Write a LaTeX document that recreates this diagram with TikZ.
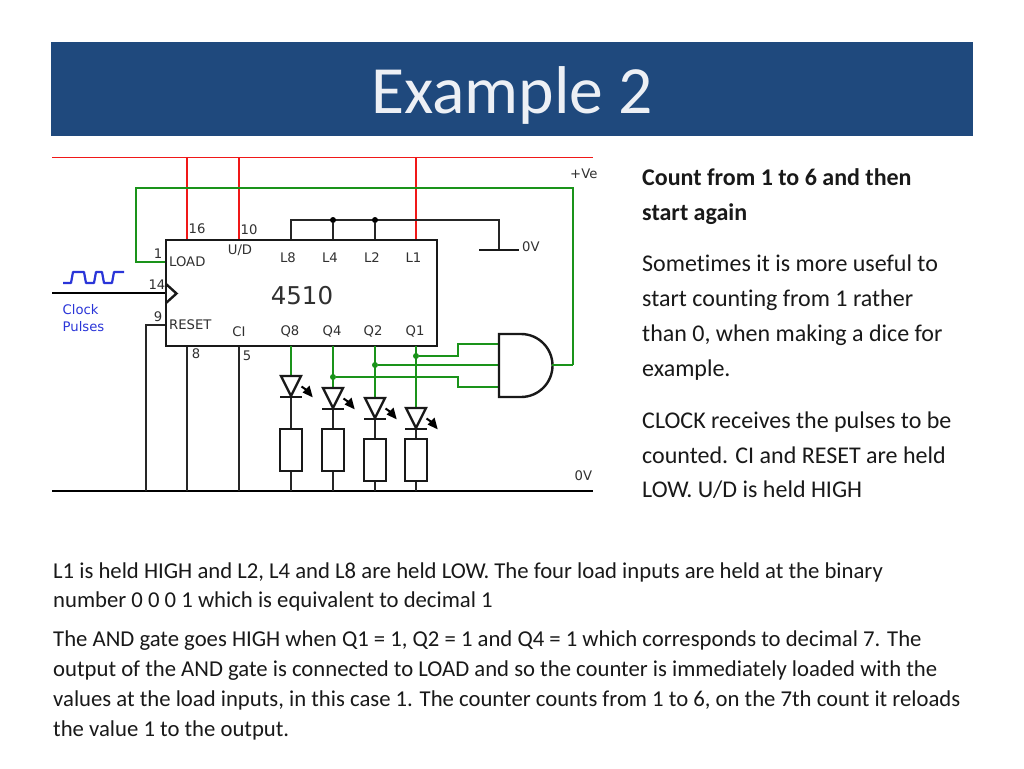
\documentclass[tikz,border=0pt]{standalone}
\usepackage{fontspec}
\setmainfont[Ligatures=NoCommon]{Carlito}
\newfontfamily\dv{DejaVu Sans}
\definecolor{banner}{HTML}{1F497D}
\definecolor{wgreen}{HTML}{1A931A}
\definecolor{wred}{HTML}{F01818}
\definecolor{lbl}{HTML}{303030}
\definecolor{clk}{HTML}{2A35D8}
\tikzset{x=1pt,y=-1pt,
 wire/.style={line width=2.4pt,black!85},
 gw/.style={line width=2.4pt,wgreen},
 rw/.style={line width=2.4pt,wred},
 part/.style={line width=2.4pt,black!90},
 lab/.style={font=\dv\fontsize{13.2}{15}\selectfont,text=lbl,inner sep=0pt},
 body/.style={font=\fontsize{24}{28}\selectfont,text=black!90,anchor=base west,inner sep=0pt},
 bodyb/.style={body,font=\fontsize{24}{28}\selectfont\bfseries},
 small/.style={body,font=\fontsize{22.7}{27}\selectfont},
 gd/.style={circle,fill=wgreen,inner sep=0pt,minimum size=6pt},
 kd/.style={circle,fill=black,inner sep=0pt,minimum size=6pt},
 rbox/.style={draw,part,fill=white,minimum width=22pt,minimum height=42pt,inner sep=0pt,outer sep=0pt},
}
\begin{document}
\begin{tikzpicture}
\useasboundingbox (0,0) rectangle (1024,768);
\fill[white] (0,0) rectangle (1024,768);
\node[fill=banner,minimum width=922pt,minimum height=93.5pt,inner sep=0pt,outer sep=0pt,anchor=north west] (title) at (51,42) {};
\node[font=\fontsize{67.6}{76}\selectfont,text=white!92!banner,inner sep=0pt,anchor=base] (tt) at (512,113) {Example 2};
% rails
\coordinate (rl) at (52,157); \coordinate (rr) at (593,157);
\draw[wred,line width=0.9pt] (rl) -- (rr);
\coordinate (gl) at (52,491); \coordinate (gr) at (593,491);
\draw[black,line width=2.4pt] (gl) -- (gr);
% top wires
\draw[rw] (187,157) -- (187,240);
\draw[rw] (239,157) -- (239,240);
\draw[rw] (416,157) -- (416,240);
\draw[gw] (573,365) -- (573,188) -- (136,188) -- (136,262) -- (166,262);
\draw[wire] (291,240) -- (291,220) -- (499,220) -- (499,250);
\draw[part] (479,250) -- (519,250);
\node[kd] (d1) at (333,220) {};
\node[kd] (d2) at (375,220) {};
\draw[wire] (d1) -- (333,240);
\draw[wire] (d2) -- (375,240);
% clock
\draw[black,line width=2.4pt] (52,293) -- (166,293);
\draw[clk,line width=2.2pt,line join=round] (63,283) -- (71,283) -- (73,272) -- (84,272) -- (86,283) -- (94,283) -- (96,272) -- (102,272) -- (104,283) -- (112,283) -- (114,272) -- (124,272);
\node[font=\dv\fontsize{13.2}{15}\selectfont,text=clk,anchor=west,inner sep=0pt] (c1) at (62.5,309.5) {Clock};
\node[font=\dv\fontsize{13.2}{15}\selectfont,text=clk,anchor=west,inner sep=0pt] (c2) at (62.5,326.5) {Pulses};
% lower left wires
\draw[wire] (166,325) -- (146,325) -- (146,491);
\draw[wire] (187,346) -- (187,491);
\draw[wire] (239,346) -- (239,491);
% chip
\node[draw,part,minimum width=271pt,minimum height=106pt,inner sep=0pt,outer sep=0pt,anchor=north west] (chip) at (166,240) {};
\draw[part,line join=miter] (166,284) -- (176.5,293.5) -- (166,303);
% pin labels
\node[lab] at (197,229) {16};
\node[lab] at (249,230) {10};
\node[lab] at (158,254) {1};
\node[lab] at (157,285) {14};
\node[lab] at (158,317) {9};
\node[lab] at (196,354) {8};
\node[lab] at (247,355.5) {5};
\node[lab,anchor=west] at (169,261.5) {LOAD};
\node[lab,anchor=west] at (169,325) {RESET};
\node[lab] at (240,250) {U/D};
\node[lab] at (288,257.5) {L8};
\node[lab] at (330,257.5) {L4};
\node[lab] at (372,257.5) {L2};
\node[lab] at (413.5,257.5) {L1};
\node[lab] at (239,331.5) {CI};
\node[lab] at (290,331.5) {Q8};
\node[lab] at (332,331.5) {Q4};
\node[lab] at (373,331.5) {Q2};
\node[lab] at (415,331.5) {Q1};
\node[font=\dv\fontsize{24.5}{28}\selectfont,text=lbl,inner sep=0pt] at (302,295.5) {4510};
\node[lab,anchor=west] at (522,247) {0V};
\node[lab,anchor=west] at (570,173.5) {+Ve};
\node[lab,anchor=west] at (574.5,476) {0V};
% LED wires
\draw[gw] (291,346) -- (291,376);
\draw[gw] (333,346) -- (333,388);
\draw[gw] (375,346) -- (375,398);
\draw[gw] (416,346) -- (416,408);
\node[gd] (q1) at (416,356) {};
\node[gd] (q2) at (375,365) {};
\node[gd] (q4) at (333,377) {};
\draw[gw] (q1) -- (458,356) -- (458,344) -- (499,344);
\draw[gw] (q2) -- (499,365);
\draw[gw] (q4) -- (458,377) -- (458,387) -- (499,387);
% AND
\draw[part,fill=white] (499,334) -- (521,334) arc[start angle=-90,end angle=90,radius=31.5] -- (499,397) -- cycle;
\draw[gw] (552,365) -- (573,365);
% LEDs
\foreach \x/\y/\r in {291/376/429, 333/388/429, 375/398/439, 416/408/439}{
 \draw[wire] (\x,\y+20) -- (\x,491);
 \draw[part,fill=white,line join=miter] (\x-10,\y) -- (\x+10,\y) -- (\x,\y+20) -- cycle;
 \draw[part] (\x-11,\y+21) -- (\x+11,\y+21);
 \node[rbox] at (\x,\r+21) {};
 \draw[black,line width=2pt] (\x+10.5,\y+10.5) -- (\x+17,\y+15);
 \fill[black] (\x+21.7,\y+21.3) -- (\x+18.5,\y+9.5) -- (\x+11.5,\y+16.5) -- cycle;
}
% text
\node[bodyb] at (642,185) {Count from 1 to 6 and then};
\node[bodyb] at (642,220.3) {start again};
\node[body] at (642,271.8) {Sometimes it is more useful to};
\node[body] at (642,306.8) {start counting from 1 rather};
\node[body] at (642,341.8) {than 0, when making a dice for};
\node[body] at (642,376.3) {example.};
\node[body] at (642,428.8) {CLOCK receives the pulses to be};
\node[body] at (642,463.3) {counted. CI and RESET are held};
\node[body] at (642,497.8) {LOW. U/D is held HIGH};
\node[small] at (53,578.3) {L1 is held HIGH and L2, L4 and L8 are held LOW. The four load inputs are held at the binary};
\node[small] at (53,607.8) {number 0 0 0 1 which is equivalent to decimal 1};
\node[small] at (53,646.4) {The AND gate goes HIGH when Q1 = 1, Q2 = 1 and Q4 = 1 which corresponds to decimal 7. The};
\node[small] at (53,676.6) {output of the AND gate is connected to LOAD and so the counter is immediately loaded with the};
\node[small] at (53,706.6) {values at the load inputs, in this case 1. The counter counts from 1 to 6, on the 7th count it reloads};
\node[small] at (53,736.4) {the value 1 to the output.};
\end{tikzpicture}
\end{document}
